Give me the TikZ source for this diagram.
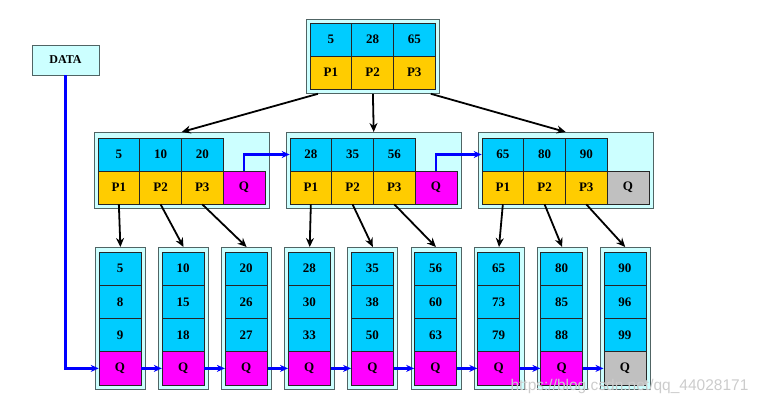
\documentclass[tikz,border=0pt]{standalone}
\usepackage{fontspec}
\setmainfont{Liberation Serif}
\newfontfamily\markfont{Liberation Sans}
\usetikzlibrary{positioning,arrows.meta}

\definecolor{keyblue}{RGB}{0,204,255}
\definecolor{ptrgold}{RGB}{255,204,0}
\definecolor{qpink}{RGB}{255,0,255}
\definecolor{qgray}{RGB}{192,192,192}
\definecolor{boxcyan}{RGB}{204,255,255}
\definecolor{rimgray}{RGB}{80,100,100}

\begin{document}
\begin{tikzpicture}[x=1pt,y=-1pt,
cell/.style={draw=black!85,line width=0.6pt,minimum width=41.7pt,minimum height=33pt,inner sep=0pt,font=\fontsize{13}{15}\selectfont\bfseries},
key cell/.style={cell,fill=keyblue},
ptr cell/.style={cell,fill=ptrgold},
q cell/.style={cell,fill=qpink},
nil cell/.style={cell,fill=qgray},
leaf cell/.style={key cell,minimum width=42pt,minimum height=33.25pt},
frame/.style={draw=rimgray,line width=0.8pt,fill=boxcyan,inner sep=0pt,anchor=north west},
down/.style={-{Stealth[length=9pt,width=8pt]},line width=1.8pt,black},
link/.style={-{Stealth[length=8pt,width=7pt]},line width=2.2pt,blue}]
\useasboundingbox (0,0) rectangle (762,406);

% root
\node[frame,minimum width=133pt,minimum height=74pt] (rootbox) at (306,19) {};
\foreach \k/\p [count=\i] in {5/P1,28/P2,65/P3}{
  \node[key cell] (rk\i) at (310+41.7*\i-20.85,39.5) {\k};
  \node[ptr cell] (rp\i) at (310+41.7*\i-20.85,72.5) {\p};
}

% DATA
\node[frame,anchor=center,minimum width=67pt,minimum height=30pt,font=\fontsize{12}{14}\selectfont\bfseries] (data) at (65.5,60) {DATA};

% inner nodes
\foreach \x/\a/\b/\c [count=\n] in {98/5/10/20,290/28/35/56,482/65/80/90}{
  \node[frame,minimum width=175pt,minimum height=76pt] (n\n box) at (\x-4,132) {};
  \foreach \k [count=\i] in {\a,\b,\c}{
    \node[key cell] (n\n k\i) at (\x+41.7*\i-20.85,154.5) {\k};
    \node[ptr cell] (n\n p\i) at (\x+41.7*\i-20.85,187.5) {P\i};
  }
}
\node[q cell] (n1q) at (98+146,187.5) {Q};
\node[q cell] (n2q) at (290+146,187.5) {Q};
\node[nil cell] (n3q) at (482+146,187.5) {Q};

% leaves
\foreach \a/\b/\c [count=\n] in {5/8/9,10/15/18,20/26/27,28/30/33,35/38/50,56/60/63,65/73/79,80/85/88,90/96/99}{
  \pgfmathsetmacro\lx{99+63.1*(\n-1)}
  \node[frame,minimum width=50pt,minimum height=142pt] (l\n box) at (\lx-4,247) {};
  \node[leaf cell] (l\n a) at (\lx+21,268.6) {\a};
  \node[leaf cell] (l\n b) at (\lx+21,301.9) {\b};
  \node[leaf cell] (l\n c) at (\lx+21,335.1) {\c};
}
\foreach \n in {1,...,8}
  \node[leaf cell,fill=qpink] (q\n) at (99+63.1*\n-63.1+21,368.4) {Q};
\node[leaf cell,fill=qgray] (q9) at (99+63.1*8+21,368.4) {Q};

% root to inner nodes
\draw[down] (rootbox.south west) ++(12,0) -- (n1box.north -| n1k2.east);
\draw[down] (rootbox.south) -- (n2box.north -| n2k2.east);
\draw[down] (rootbox.south east) ++(-9,0) -- (n3box.north -| n3k2.east);

% inner nodes to leaves
\foreach \n in {1,2,3}
  \foreach \i in {1,2,3}{
    \pgfmathtruncatemacro\j{3*\n-3+\i}
    \draw[down] (n\n p\i.south) -- (l\j box.north);
  }

% sibling links
\draw[link] (n1q.north) |- (n2k1.west);
\draw[link] (n2q.north) |- (n3k1.west);
\draw[link] (data.south) |- (q1.west);
\foreach \n in {1,...,8}{
  \pgfmathtruncatemacro\m{\n+1}
  \draw[link] (q\n.east) -- (q\m.west);
}

\node[text=black!20,font=\markfont\fontsize{15.5}{17}\selectfont,anchor=west] (mark) at (507,386) {https://blog.csdn.net/qq\_44028171};
\end{tikzpicture}
\end{document}
